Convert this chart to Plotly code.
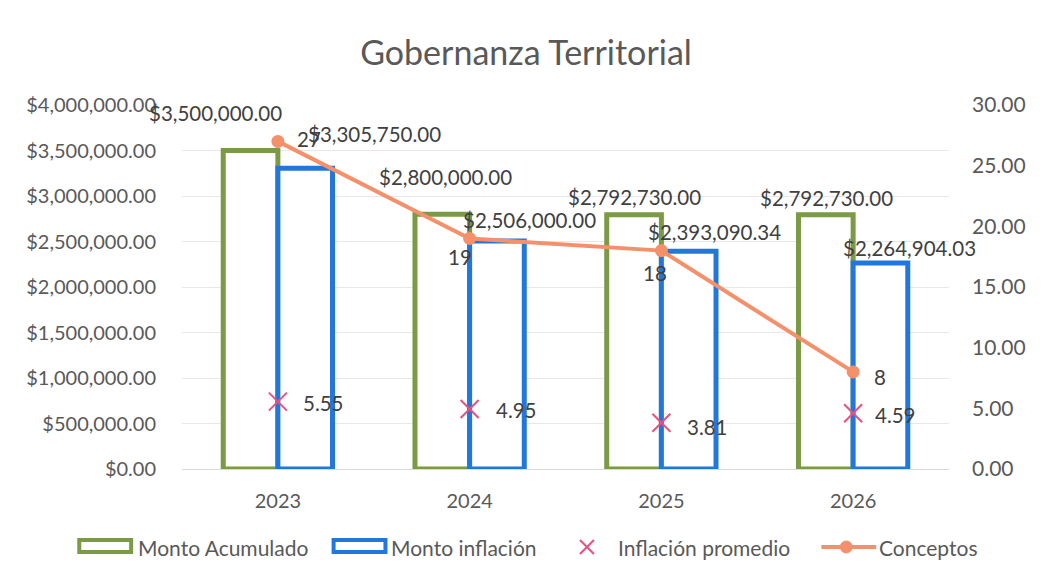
import plotly.graph_objects as go

years = ["2023", "2024", "2025", "2026"]
monto_acumulado = [3500000.00, 2800000.00, 2792730.00, 2792730.00]
monto_inflacion = [3305750.00, 2506000.00, 2393090.34, 2264904.03]
inflacion_promedio = [5.55, 4.95, 3.81, 4.59]
conceptos = [27, 19, 18, 8]
series_names = ["Monto Acumulado", "Monto inflación", "Inflación promedio", "Conceptos"]

GREEN = "#7A9A45"
BLUE = "#2277DD"
ORANGE = "#F4916A"
PINK = "#E9507E"
LABEL = "#404040"
AXIS = "#595959"
FONT = "Lato"

# figure geometry (page has an 8px body margin)
W, H = 1030, 560
L, T, R, B = 174, 97, 87, 99
PW, PH = W - L - R, H - T - B
OFF = 8


def px(xs):  # screen x -> paper x
    return (xs - OFF - L) / PW


def py(ys):  # screen y -> paper y
    return (H - B - (ys - OFF)) / PH


fig = go.Figure()
fig.add_trace(go.Bar(
    x=years, y=monto_acumulado, name=series_names[0],
    marker=dict(color="white", line=dict(color=GREEN, width=5)),
    offsetgroup="a", yaxis="y"))
fig.add_trace(go.Bar(
    x=years, y=monto_inflacion, name=series_names[1],
    marker=dict(color="white", line=dict(color=BLUE, width=5)),
    offsetgroup="b", yaxis="y"))
fig.add_trace(go.Scatter(
    x=years, y=inflacion_promedio, name=series_names[2], mode="markers",
    marker=dict(symbol="x-thin", size=18, line=dict(color=PINK, width=2), color=PINK),
    yaxis="y2"))
fig.add_trace(go.Scatter(
    x=years, y=conceptos, name=series_names[3], mode="lines+markers",
    line=dict(color=ORANGE, width=4),
    marker=dict(symbol="circle", size=13, color=ORANGE),
    yaxis="y2"))

# data-label offsets in pixels (style only)
acu_off = [(-62, 38), (-24, 37), (-27, 18), (-27, 17)]
inf_off = [(97, 34), (60, 21), (53, 19), (56, 15)]
con_off = [(31, 2), (-10, -19), (-6, -22), (27, -5)]
pro_off = [(46, -1), (47, -1), (46, -4), (42, -2)]

ann = []
for i, yr in enumerate(years):
    ann.append(dict(x=i, y=monto_acumulado[i], yref="y", text=f"${monto_acumulado[i]:,.2f}",
                    xshift=acu_off[i][0], yshift=acu_off[i][1]))
    ann.append(dict(x=i, y=monto_inflacion[i], yref="y", text=f"${monto_inflacion[i]:,.2f}",
                    xshift=inf_off[i][0], yshift=inf_off[i][1]))
    ann.append(dict(x=i, y=conceptos[i], yref="y2", text=f"{conceptos[i]}",
                    xshift=con_off[i][0], yshift=con_off[i][1]))
    ann.append(dict(x=i, y=inflacion_promedio[i], yref="y2", text=f"{inflacion_promedio[i]:.2f}",
                    xshift=pro_off[i][0], yshift=pro_off[i][1]))
for a in ann:
    a.update(xref="x", showarrow=False, xanchor="center", yanchor="middle",
             font=dict(family=FONT, size=20.5, color=LABEL))

# manual legend (wide rectangle symbols like the original)
LEG_Y = 547
shapes = []
shapes.append(dict(type="rect", xref="paper", yref="paper", x0=px(79), x1=px(131),
                   y0=py(540), y1=py(552), line=dict(color=GREEN, width=4), fillcolor="white"))
shapes.append(dict(type="rect", xref="paper", yref="paper", x0=px(334), x1=px(386),
                   y0=py(540), y1=py(552), line=dict(color=BLUE, width=4), fillcolor="white"))
shapes.append(dict(type="line", xref="paper", yref="paper", x0=px(581), x1=px(595),
                   y0=py(LEG_Y - 7), y1=py(LEG_Y + 7), line=dict(color=PINK, width=2)))
shapes.append(dict(type="line", xref="paper", yref="paper", x0=px(581), x1=px(595),
                   y0=py(LEG_Y + 7), y1=py(LEG_Y - 7), line=dict(color=PINK, width=2)))
shapes.append(dict(type="line", xref="paper", yref="paper", x0=px(823), x1=px(878),
                   y0=py(LEG_Y), y1=py(LEG_Y), line=dict(color=ORANGE, width=4)))
shapes.append(dict(type="circle", xref="paper", yref="paper", x0=px(842), x1=px(854),
                   y0=py(LEG_Y + 6), y1=py(LEG_Y - 6), line=dict(color=ORANGE, width=1),
                   fillcolor=ORANGE))
for name, xs in zip(series_names, [136, 390, 617, 879]):
    ann.append(dict(xref="paper", yref="paper", x=px(xs), y=py(LEG_Y), text=name,
                    showarrow=False, xanchor="left", yanchor="middle",
                    font=dict(family=FONT, size=21, color=AXIS)))

fig.update_layout(
    width=W, height=H,
    margin=dict(l=L, r=R, t=T, b=B),
    paper_bgcolor="white", plot_bgcolor="white",
    barmode="group", bargap=0.43, bargroupgap=0,
    font=dict(family=FONT, size=20, color=AXIS),
    title=dict(text="Gobernanza Territorial", x=(526 - OFF) / W, xref="container",
               xanchor="center", y=1 - (53 - OFF) / H, yref="container", yanchor="middle",
               font=dict(family=FONT, size=34, color=AXIS)),
    xaxis=dict(type="category", range=[-0.5, len(years) - 0.5], showgrid=False,
               showline=True, linecolor="#D9D9D9", linewidth=1,
               ticks="", ticklabelstandoff=14, tickfont=dict(size=20, color=AXIS)),
    yaxis=dict(range=[0, 4000000], dtick=500000, tickprefix="$", tickformat=",.2f",
               showgrid=True, gridcolor="#E8E8E8", gridwidth=1, zeroline=False,
               showline=False, ticks="", ticklabelstandoff=25,
               tickfont=dict(size=20, color=AXIS)),
    yaxis2=dict(range=[0, 30], dtick=5, tickformat=".2f", overlaying="y", side="right",
                showgrid=False, zeroline=False, showline=False, ticks="",
                ticklabelstandoff=22, tickfont=dict(size=21, color=AXIS)),
    annotations=ann,
    shapes=shapes,
    showlegend=False,
)

fig.write_html("out.html")
